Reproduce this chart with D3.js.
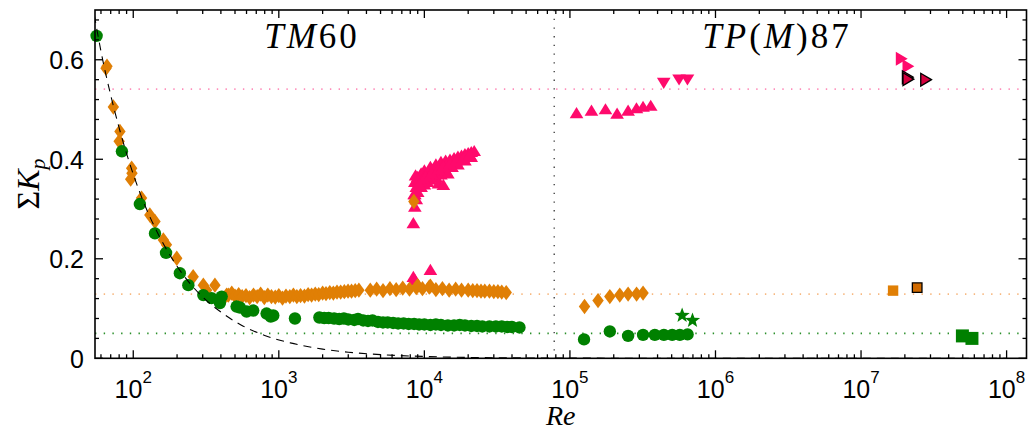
<!DOCTYPE html>
<html><head><meta charset="utf-8">
<script src="https://cdn.jsdelivr.net/npm/d3@7"></script>
<style>body{margin:0;background:#fff}svg{display:block}</style>
</head><body>
<div id="chart"></div>
<script>
// ---- data (Re, sum Kp) ----
const tmGreen = [[56,0.648],[83.6,0.416],[111,0.310],[141,0.251],[168,0.212],[209,0.171],[239,0.147],[303,0.127],[345,0.121],[394,0.111],[405,0.124],[513,0.104],[541,0.102],[601,0.094],[667,0.096],[824,0.090],[880,0.084],[916,0.086],[1291,0.080],
 [1900,0.082],[2050,0.081],[2200,0.081],[2400,0.080],[2600,0.079],[2800,0.080],[3000,0.078],[3300,0.077],[3500,0.079],[3800,0.076],[4100,0.075],[4400,0.076],[4800,0.073],[5200,0.072],[5600,0.072],[6100,0.071],[6600,0.070],[7200,0.070],[7800,0.069],[8500,0.069],[9200,0.068],[10000,0.068],[11000,0.067],[12000,0.068],[13000,0.067],[14500,0.066],[16000,0.066],[17500,0.067],[19000,0.066],[21000,0.065],[23000,0.065],[25000,0.064],[28000,0.064],[31000,0.064],[34000,0.064],[37000,0.063],[40000,0.063],[45000,0.062]];
const tmOrange = [[65,0.583],[66,0.587],[73,0.505],[81,0.456],[80,0.436],[97.5,0.382],[98,0.372],[96,0.360],[114,0.322],[130,0.288],[141,0.275],[161,0.238],[169,0.228],[199,0.201],[258,0.164],[303,0.147],[364,0.147],[319,0.137],[438,0.127],
 [450,0.127],[475,0.131],[500,0.125],[530,0.128],[560,0.124],[595,0.126],[630,0.122],[670,0.127],[710,0.124],[750,0.129],[795,0.122],[840,0.127],[890,0.124],[945,0.123],[1000,0.126],[1060,0.121],[1120,0.125],[1190,0.124],[1260,0.127],[1330,0.124],[1410,0.126],[1500,0.125],[1590,0.128],[1680,0.127],[1780,0.129],[1880,0.128],[2000,0.131],[2110,0.130],[2240,0.132],[2370,0.131],[2510,0.133],[2660,0.133],[2820,0.134],[2990,0.135],[3160,0.135],[3350,0.136],[3550,0.137],
 [4250,0.137],[4700,0.139],[5200,0.136],[5800,0.140],[6400,0.138],[7100,0.141],[7900,0.139],[8800,0.142],[9000,0.146],[9700,0.140],[10800,0.143],[11000,0.145],[12000,0.138],[13300,0.140],[14800,0.137],[16400,0.139],[18000,0.137],[20000,0.137],[21500,0.136],[23000,0.136],[24500,0.135],[26000,0.135],[28000,0.135],[30000,0.134],[32000,0.134],[34000,0.133],[36500,0.132],
 [8470,0.315]];
const tmPink = [[8400,0.272],[8600,0.305],[8500,0.330],[8800,0.320],
 [8600,0.330],[9000,0.335],[9500,0.345],[10000,0.350],[10500,0.355],[11000,0.360],[12000,0.365],[12500,0.352],[13000,0.370],[13500,0.349],[14000,0.378],[14500,0.372],[15500,0.385],[17000,0.390],[19000,0.398],[21000,0.405],
 [8600,0.355],[8800,0.345],[9000,0.365],[9300,0.360],[9500,0.372],[10000,0.378],[10500,0.372],[11000,0.385],[11500,0.380],[12000,0.390],[13000,0.395],[14000,0.398],[15000,0.400],[16000,0.403],[17000,0.406],[18000,0.408],[19000,0.411],[20000,0.413],[21000,0.415],[22000,0.417],
 [8700,0.368],[9200,0.350],[9800,0.362],[10200,0.366],[11200,0.372],[12500,0.380],[13500,0.386],[15000,0.392],[16500,0.397],[18500,0.402],[20500,0.409],
 [8400,0.164],[8600,0.158],[11000,0.178]];
const tpPinkUp = [[111000,0.493],[140600,0.498],[175500,0.501],[210900,0.492],[251000,0.498],[286600,0.503],[318000,0.506],[359000,0.508]];
const tpPinkDown = [[441000,0.553],[562000,0.560],[642000,0.560]];
const tpPinkRight = [[1.89e7,0.602],[2.1e7,0.587]];
const tpDarkRight = [[2.08e7,0.565],[2.1e7,0.561],[2.78e7,0.560]];
const tpOrange = [[126000,0.104],[156000,0.116],[188000,0.124],[220000,0.127],[251000,0.129],[287000,0.129],[318000,0.131]];
const tpGreen = [[125000,0.038],[188000,0.054],[251000,0.045],[318000,0.047],[383000,0.047],[442000,0.047],[504000,0.047],[569000,0.047],[643000,0.048]];
const tpGreenStar = [[590000,0.086],[695000,0.076]];
const tpOrangeSq = [[1.66e7,0.136]];
const tpDarkSq = [[2.43e7,0.142]];
const tpGreenSq = [[4.97e7,0.045],[5.78e7,0.040]];
const fitCurve = [[54,0.69],[60,0.617],[70,0.529],[80,0.463],[100,0.370],[120,0.308],[150,0.247],[200,0.185],[300,0.123],[400,0.093],[550,0.067],[800,0.046],[1200,0.031],[2000,0.0185],[3000,0.0123],[5000,0.0074],[10000,0.0037],[30000,0.0012],[1e5,0.0004],[1e6,0.00004],[1e8,0.0000004]];
const refLines = [{v:0.541,c:"#ff8fbb"},{v:0.129,c:"#f7b880"},{v:0.050,c:"#2a8f2a"}];
const splitRe = 78000;
const xDomain = [54.6, 1.37e8];
const yDomain = [0, 0.7];
const xMajor = [1e2,1e3,1e4,1e5,1e6,1e7,1e8];
const yMajor = [0,0.2,0.4,0.6];

// ---- layout ----
const W=1033,H=433, L=95, R=1026.5, T=10, B=358.3;
const svg=d3.select("#chart").append("svg").attr("width",W).attr("height",H);
const x=d3.scaleLog().domain(xDomain).range([L,R]);
const y=d3.scaleLinear().domain(yDomain).range([B,T]);

const g=svg.append("g");
refLines.forEach(r=>{
  g.append("line").attr("x1",L).attr("x2",R).attr("y1",y(r.v)).attr("y2",y(r.v))
   .attr("stroke",r.c).attr("stroke-width",1.6).attr("stroke-dasharray","1.4,7.3");
});
g.append("line").attr("x1",x(splitRe)).attr("x2",x(splitRe)).attr("y1",T).attr("y2",B)
 .attr("stroke","#444").attr("stroke-width",1.4).attr("stroke-dasharray","1.3,7.4");

const shapes={
  circle:(s)=>`M${s},0A${s},${s} 0 1,1 ${-s},0A${s},${s} 0 1,1 ${s},0Z`,
  diamond:(s)=>`M0,${-s*1.35}L${s},0L0,${s*1.35}L${-s},0Z`,
  up:(s)=>`M0,${-s*0.95}L${s*1.1},${s*0.85}L${-s*1.1},${s*0.85}Z`,
  down:(s)=>`M0,${s*0.95}L${s*1.1},${-s*0.85}L${-s*1.1},${-s*0.85}Z`,
  right:(s)=>`M${s},0L${-s*0.85},${-s*1.1}L${-s*0.85},${s*1.1}Z`,
  square:(s)=>`M${-s},${-s}H${s}V${s}H${-s}Z`,
  star:(s)=>{let p="";for(let i=0;i<10;i++){const r=i%2?s*0.42:s;const a=-Math.PI/2+i*Math.PI/5;p+=(i?"L":"M")+(r*Math.cos(a)).toFixed(2)+","+(r*Math.sin(a)).toFixed(2);}return p+"Z";}
};
function plot(data,shape,size,fill,stroke){
  g.append("g").selectAll("path").data(data).join("path")
   .attr("transform",d=>`translate(${x(d[0])},${y(d[1])})`)
   .attr("d",shapes[shape](size)).attr("fill",fill)
   .attr("stroke",stroke||"none").attr("stroke-width",stroke?1.3:0);
}
const PINK="#ff0a6c", ORANGE="#e07f05", GREEN="#008000";
plot(tmPink,"up",6.2,PINK);
plot(tpPinkUp,"up",6.2,PINK);
plot(tpPinkDown,"down",6.2,PINK);
plot(tpPinkRight,"right",6.4,PINK);
plot(tpDarkRight,"right",5.8,"#d6003f","#000");
plot(tmOrange,"diamond",5.7,ORANGE);
plot(tpOrange,"diamond",5.7,ORANGE);
plot(tpOrangeSq,"square",5.2,ORANGE);
plot(tpDarkSq,"square",4.8,"#d06a00","#000");
plot(tmGreen,"circle",6.2,GREEN);
plot(tpGreen,"circle",6.2,GREEN);
plot(tpGreenStar,"star",8,GREEN);
plot(tpGreenSq,"square",6.5,GREEN);

svg.append("clipPath").attr("id","clp").append("rect").attr("x",L).attr("y",T).attr("width",R-L).attr("height",B-T);
g.append("path").datum(fitCurve).attr("clip-path","url(#clp)")
 .attr("d",d3.line().x(d=>x(d[0])).y(d=>y(d[1])).curve(d3.curveMonotoneX))
 .attr("fill","none").attr("stroke","#000").attr("stroke-width",1.1).attr("stroke-dasharray","8,6");

svg.append("rect").attr("x",L).attr("y",T).attr("width",R-L).attr("height",B-T)
 .attr("fill","none").attr("stroke","#000").attr("stroke-width",1.6);

const xMinor=[];
for(let e=1;e<=8;e++)for(let m=2;m<=9;m++){const v=m*Math.pow(10,e);if(v>=xDomain[0]&&v<=xDomain[1])xMinor.push(v);}
const tk=svg.append("g").attr("stroke","#000").attr("stroke-width",1.3);
xMajor.forEach(v=>{const px=x(v);tk.append("line").attr("x1",px).attr("x2",px).attr("y1",B).attr("y2",B-8);tk.append("line").attr("x1",px).attr("x2",px).attr("y1",T).attr("y2",T+8);});
xMinor.forEach(v=>{const px=x(v);tk.append("line").attr("x1",px).attr("x2",px).attr("y1",B).attr("y2",B-4);tk.append("line").attr("x1",px).attr("x2",px).attr("y1",T).attr("y2",T+4);});
const yTicks=d3.range(0,0.7001,0.04);
yTicks.forEach(v=>{const py=y(v);const major=yMajor.some(m=>Math.abs(m-v)<1e-6);const len=major?8:4;
 tk.append("line").attr("x1",L).attr("x2",L+len).attr("y1",py).attr("y2",py);
 tk.append("line").attr("x1",R).attr("x2",R-len).attr("y1",py).attr("y2",py);});

const lab=svg.append("g").attr("font-family","'Liberation Sans', Arial, sans-serif").attr("fill","#000");
yMajor.forEach(v=>{lab.append("text").attr("x",84).attr("y",y(v)+9.5).attr("text-anchor","end").attr("font-size",25).text(v===0?"0":d3.format(".1f")(v));});
xMajor.forEach(v=>{const t=lab.append("text").attr("x",x(v)).attr("y",398).attr("text-anchor","middle").attr("font-size",25);
 t.append("tspan").text("10");t.append("tspan").attr("dy",-15).attr("font-size",17).text(Math.round(Math.log10(v)));});

const serif="'Liberation Serif', 'Times New Roman', serif";
const xt=svg.append("text").attr("x",(L+R)/2).attr("y",425).attr("text-anchor","middle").attr("font-family",serif).attr("font-size",28).attr("font-style","italic");
xt.append("tspan").text("R");xt.append("tspan").text("e");
const yt=svg.append("text").attr("transform","translate(39,184) rotate(-90)").attr("text-anchor","middle").attr("font-family",serif).attr("font-size",32);
yt.append("tspan").text("Σ");yt.append("tspan").attr("font-style","italic").text("K");
yt.append("tspan").attr("font-style","italic").attr("font-size",22).attr("dy",6).text("p");

function title(cx,parts){const t=svg.append("text").attr("x",cx).attr("y",48).attr("text-anchor","middle").attr("font-family",serif).attr("font-size",35).attr("letter-spacing",3);
 parts.forEach(p=>t.append("tspan").attr("font-style",p[1]?"italic":"normal").text(p[0]));}
title(312,[["TM",1],["60",0]]);
title(777,[["TP",1],["(",0],["M",1],[")87",0]]);
</script>
</body></html>
